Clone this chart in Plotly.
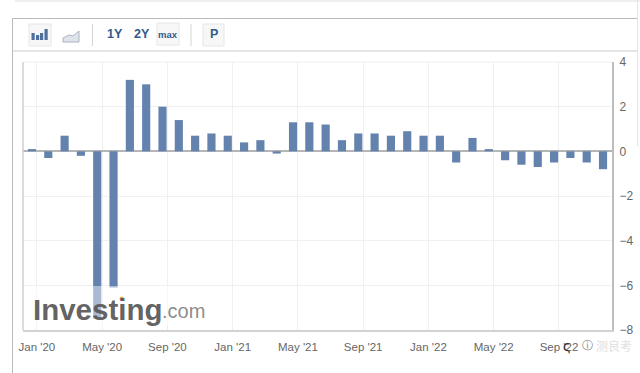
import plotly.graph_objects as go

months = ["Jan '20","Feb '20","Mar '20","Apr '20","May '20","Jun '20","Jul '20","Aug '20","Sep '20","Oct '20","Nov '20","Dec '20",
          "Jan '21","Feb '21","Mar '21","Apr '21","May '21","Jun '21","Jul '21","Aug '21","Sep '21","Oct '21","Nov '21","Dec '21",
          "Jan '22","Feb '22","Mar '22","Apr '22","May '22","Jun '22","Jul '22","Aug '22","Sep '22","Oct '22","Nov '22","Dec '22"]
values = [0.1,-0.3,0.7,-0.2,-7.5,-6.1,3.2,3.0,2.0,1.4,0.7,0.8,
          0.7,0.4,0.5,-0.1,1.3,1.3,1.2,0.5,0.8,0.8,0.7,0.9,
          0.7,0.7,-0.5,0.6,0.1,-0.4,-0.6,-0.7,-0.5,-0.3,-0.5,-0.8]
y_ticks = [4,2,0,-2,-4,-6,-8]
tick_every = 4
tick_offset = 0.3

W, H = 640, 373
L, R, T, B = 23, 612, 62, 330
FONT = "Liberation Sans"

def px(x): return (x - L) / (R - L)
def py(y): return (B - y) / (B - T)

xs = list(range(len(months)))
tickvals = [i + tick_offset for i in xs[::tick_every]]
ticktext = months[::tick_every]

fig = go.Figure(go.Bar(x=xs, y=values, width=0.5, marker=dict(color="#6382ad", line=dict(width=0))))

shapes = []
def rect(x0, y0, x1, y1, fill=None, line=None, lw=1, layer="above"):
    shapes.append(dict(type="rect", xref="paper", yref="paper", x0=px(x0), x1=px(x1), y0=py(y0), y1=py(y1),
                       fillcolor=fill or "rgba(0,0,0,0)", line=dict(color=line or "rgba(0,0,0,0)", width=lw if line else 0), layer=layer))
def line(x0, y0, x1, y1, color, lw=1):
    shapes.append(dict(type="line", xref="paper", yref="paper", x0=px(x0), x1=px(x1), y0=py(y0), y1=py(y1),
                       line=dict(color=color, width=lw), layer="above"))

# page chrome
rect(15, 0, 640, 2, fill="#efefef")
line(12.5, 18.5, 637, 18.5, "#b9b9b9")
line(12.5, 18.5, 12.5, 373, "#b9b9b9")
line(12.5, 51, 637, 51, "#dcdcdc", 1.5)
line(637.5, 0, 637.5, 146, "#e3e3e3")
# toolbar
rect(29, 24, 51, 46, fill="#f7f7f7", line="#e6e6e6")
for x0, top in [(31.5, 33), (36, 35), (40, 33), (44.5, 29)]:
    rect(x0, top, x0 + 3.2, 40, fill="#4f6f9c")
shapes.append(dict(type="path", xref="paper", yref="paper",
    path="M {} {} L {} {} L {} {} L {} {} L {} {} L {} {} Z".format(
        px(63), py(42), px(63), py(38), px(69), py(35), px(73), py(36), px(79), py(31), px(79), py(42)),
    fillcolor="#dfe3ea", line=dict(color="#a9b4c6", width=1), layer="above"))
line(92.5, 24, 92.5, 46, "#d5d5d5")
rect(157, 23, 179, 45, fill="#f7f7f7", line="#e6e6e6")
line(191, 24, 191, 46, "#d5d5d5")
rect(203, 24, 224, 46, fill="#f7f7f7", line="#e6e6e6")
# white veil of the logo
rect(33, 286, 204, 326, fill="rgba(255,255,255,0.45)")
# orange dot of the logo
shapes.append(dict(type="circle", xref="paper", yref="paper", x0=px(119.5), x1=px(124), y0=py(301), y1=py(296.5),
                   fillcolor="#e9b04f", line=dict(width=0), layer="above"))

def text(x, y, s, size, color, anchor="left", bold=False, family=FONT):
    return dict(xref="paper", yref="paper", x=px(x), y=py(y), text=f"<b>{s}</b>" if bold else s, showarrow=False,
                xanchor=anchor, yanchor="middle", font=dict(family=family, size=size, color=color))

annotations = [
    text(115, 34, "1Y", 12.5, "#2f5b8c", "center", True),
    text(142, 34, "2Y", 12.5, "#2f5b8c", "center", True),
    text(168, 34.5, "max", 9.5, "#2f5b8c", "center", True),
    text(213.5, 34, "P", 12.5, "#2f5b8c", "center", True),
    text(31, 309, "Investing", 29.5, "rgba(85,85,85,0.92)", "left", True),
    text(160, 311, ".com", 20, "rgba(125,125,125,0.9)", "left"),
    text(566, 345, "ς", 15, "#333333", "center"),
    text(587, 345, "ⓘ", 11, "#777777", "center"),
    text(614, 345, "测良考", 12, "#e0e0e0", "center", family="Noto Sans CJK SC"),
]

fig.update_layout(
    width=W, height=H, margin=dict(l=L, r=W - R, t=T, b=H - B, pad=0, autoexpand=False),
    paper_bgcolor="white", plot_bgcolor="white", showlegend=False, bargap=0.5,
    annotations=annotations,
    font=dict(family=FONT, size=12, color="#666666"),
)
fig.update_xaxes(range=[-0.55, 35.55], tickmode="array", tickvals=tickvals, ticktext=ticktext, automargin=False,
                 showgrid=True, gridcolor="#f0f0f0", gridwidth=1, ticks="", ticklen=0, ticklabelstandoff=5,
                 showline=True, linecolor="#d2d2d2", linewidth=2, zeroline=False,
                 mirror=False, tickfont=dict(size=11.5, color="#666666"), fixedrange=True)
fig.update_yaxes(range=[-8, 4], side="right", tickmode="array", tickvals=y_ticks, automargin=False,
                 showgrid=True, gridcolor="#f0f0f0", gridwidth=1, ticks="", ticklabelstandoff=3,
                 showline=True, linecolor="#bdbdbd", linewidth=2,
                 zeroline=True, zerolinecolor="#b5b5b5", zerolinewidth=1.5,
                 tickfont=dict(size=12, color="#666666"), fixedrange=True)
# light left border of plot and top border
shapes_extra = [
    dict(type="line", xref="paper", yref="paper", x0=0, x1=0, y0=0, y1=1, line=dict(color="#cfcfcf", width=1.5), layer="above"),
    dict(type="line", xref="paper", yref="paper", x0=0, x1=1, y0=1, y1=1, line=dict(color="#eeeeee", width=1), layer="above"),
]
fig.update_layout(shapes=shapes + shapes_extra)
fig.write_html("out.html", config=dict(displayModeBar=False),
               post_script="document.body.style.margin='0';document.documentElement.style.overflow='hidden';")
